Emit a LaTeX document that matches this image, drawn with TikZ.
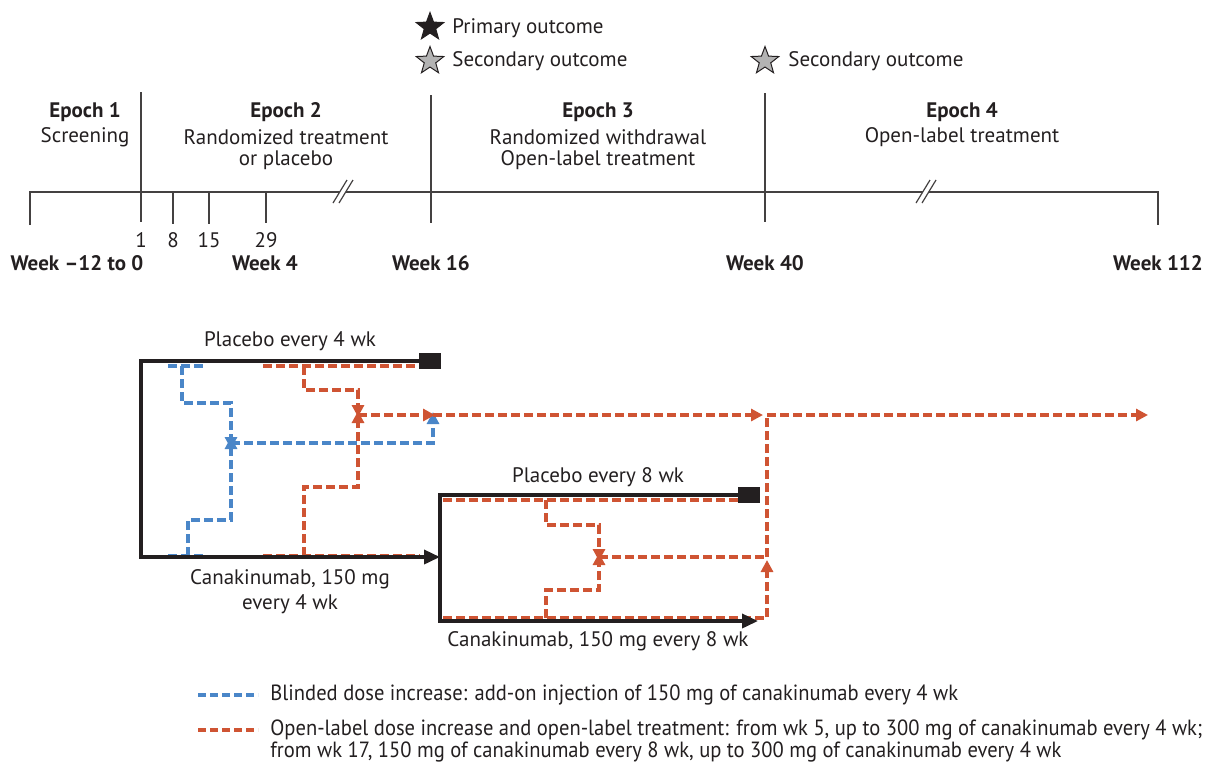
\documentclass[tikz,border=0pt]{standalone}
\usepackage{fontspec}
\setmainfont{PT Sans}
\newfontfamily\legendfont[FakeStretch=0.935]{PT Sans}
\usepackage{tikz}
\usetikzlibrary{arrows.meta,shapes.geometric,positioning}
\definecolor{ink}{HTML}{231F20}
\definecolor{doseblue}{HTML}{4A86C8}
\definecolor{dosered}{HTML}{CF5433}
\definecolor{stargray}{HTML}{B3B3B3}
\tikzstyle{txt}      = [text=ink, inner sep=0pt, font=\fontsize{10.5}{12.5}\selectfont]
\tikzstyle{head}     = [txt, font=\fontsize{10.5}{12.5}\selectfont\bfseries]
\tikzstyle{legtxt}   = [txt, anchor=west, align=left, font=\fontsize{11}{11}\legendfont]
\tikzstyle{axis}     = [draw=ink!85, line width=0.6pt]
\tikzstyle{arm}      = [draw=ink, line width=1.8pt]
\tikzstyle{armtip}   = [-{Triangle[length=8pt,width=7pt]}]
\tikzstyle{bluedash} = [draw=doseblue, line width=1.8pt, dash pattern=on 4.5pt off 2pt]
\tikzstyle{reddash}  = [draw=dosered, line width=1.8pt, dash pattern=on 4.5pt off 2pt]
\tikzstyle{dosetip}  = [-{Triangle[length=6pt,width=6pt]}]
\tikzstyle{endsq}    = [fill=ink, minimum width=11pt, minimum height=8pt, inner sep=0pt]
\tikzstyle{outstar}  = [star, star points=5, star point ratio=2.4, minimum size=14.5pt, inner sep=0pt, draw=ink, line width=0.5pt]

\begin{document}
\begin{tikzpicture}[x=0.5pt, y=-0.5pt]
	\useasboundingbox (0,0) rectangle (1209,762);

	\node[outstar, fill=ink] (prim) at (430,27) {};
	\node[outstar, fill=stargray] (sec16) at (430,61) {};
	\node[outstar, fill=stargray] (sec40) at (765,61) {};
	\node[txt, anchor=west] (primtxt) at (452,28) {Primary outcome};
	\node[txt, anchor=west] (sec16txt) at (452,61) {Secondary outcome};
	\node[txt, anchor=west] (sec40txt) at (788,61) {Secondary outcome};

	\node[head] (ep1) at (85,112) {Epoch 1};
	\node[txt] (ep1a) at (85,137) {Screening};
	\node[head] (ep2) at (286,112) {Epoch 2};
	\node[txt] (ep2a) at (286,137) {Randomized treatment};
	\node[txt] (ep2b) at (286,160) {or placebo};
	\node[head] (ep3) at (598,112) {Epoch 3};
	\node[txt] (ep3a) at (598,137) {Randomized withdrawal};
	\node[txt] (ep3b) at (598,160) {Open-label treatment};
	\node[head] (ep4) at (962,112) {Epoch 4};
	\node[txt] (ep4a) at (962,137) {Open-label treatment};

	\draw[axis] (30,225) -- (30,192) -- (1158,192) -- (1158,225);
	\draw[axis] (141,92) -- (141,222);
	\draw[axis] (431,95) -- (431,223);
	\draw[axis] (765,93) -- (765,222);
	\draw[axis] (173,192) -- (173,224);
	\draw[axis] (209,192) -- (209,224);
	\draw[axis] (266,192) -- (266,223);

	\fill[white] (333,203) -- (347,180) -- (353,180) -- (339,203) -- cycle;
	\draw[axis] (333,203) -- (347,180) (339,203) -- (353,180);
	\fill[white] (916,203) -- (930,180) -- (936,180) -- (922,203) -- cycle;
	\draw[axis] (916,203) -- (930,180) (922,203) -- (936,180);

	\node[txt] (d1) at (141,240) {1};
	\node[txt] (d8) at (173,240) {8};
	\node[txt] (d15) at (209,240) {15};
	\node[txt] (d29) at (266,240) {29};

	\node[head] (wk0) at (77,263) {Week \textendash12 to 0};
	\node[head] (wk4) at (265,263) {Week 4};
	\node[head] (wk16) at (431,263) {Week 16};
	\node[head] (wk40) at (765,263) {Week 40};
	\node[head] (wk112) at (1158,263) {Week 112};

	\node[txt] (pl4) at (290,341) {Placebo every 4 wk};
	\node[txt, align=center] (ca4) at (290,592) {Canakinumab, 150 mg\\every 4 wk};
	\node[txt] (pl8) at (598,477) {Placebo every 8 wk};
	\node[txt] (ca8) at (598,641) {Canakinumab, 150 mg every 8 wk};

	\coordinate (bluejoin) at (231,443);
	\coordinate (redjoin) at (358,415);
	\coordinate (red16) at (433,415);
	\coordinate (red40) at (767,415);
	\coordinate (redend) at (1148,415);
	\coordinate (redjoin8) at (599,557);

	\draw[bluedash] (168,366) -- (203,366);
	\draw[bluedash, dosetip] (182,366) -- (182,403) -- (231,403) -- ([yshift=-3pt]bluejoin);
	\draw[bluedash] (168,556) -- (203,556);
	\draw[bluedash, dosetip] (188,556) -- (188,520) -- (231,520) -- ([yshift=3pt]bluejoin);
	\draw[bluedash, dosetip] (bluejoin) -- (433,443) -- ([yshift=1.5pt]red16);

	\draw[reddash] (263,366) -- (420,366);
	\draw[reddash, dosetip] (304,366) -- (304,390) -- (358,390) -- ([yshift=-1pt]redjoin);
	\draw[reddash] (263,556) -- (420,556);
	\draw[reddash, dosetip] (304,556) -- (304,487) -- (358,487) -- ([yshift=2pt]redjoin);
	\draw[reddash, dosetip] (redjoin) -- ([xshift=1pt]red16);
	\draw[reddash, dosetip] (red16) -- ([xshift=-2pt]red40);
	\draw[reddash, dosetip] (red40) -- (redend);

	\node[endsq] (end4) at (430,361) {};
	\draw[arm, armtip] (end4.west) -- (141,361) -- (141,557) -- (440,557);

	\draw[reddash] (443,500) -- (738,500);
	\draw[reddash, dosetip] (546,500) -- (546,525) -- (599,525) -- ([yshift=-2pt]redjoin8);
	\draw[reddash, dosetip] (546,618) -- (546,590) -- (599,590) -- ([yshift=2pt]redjoin8);
	\draw[reddash] (redjoin8) -- (767,557);
	\draw[reddash, dosetip] (443,618) -- (767,618) -- (767,560);
	\draw[reddash] (767,557) -- (red40);

	\node[endsq] (end8) at (749,495) {};
	\draw[arm, armtip] (end8.west) -- (440,495) -- (440,621) -- (758,621);

	\coordinate (legb0) at (198,695);
	\coordinate (legb1) at (258,695);
	\coordinate (legr0) at (198,730);
	\coordinate (legr1) at (258,730);
	\draw[bluedash, dash pattern=on 4pt off 2pt] (legb0) -- (legb1);
	\draw[reddash, dash pattern=on 4pt off 2pt] (legr0) -- (legr1);
	\node[legtxt] (legblue) at (270,695) {Blinded dose increase: add-on injection of 150 mg of canakinumab every 4 wk};
	\node[legtxt] (legred) at (270,741) {Open-label dose increase and open-label treatment: from wk 5, up to 300 mg of canakinumab every 4 wk;\\from wk 17, 150 mg of canakinumab every 8 wk, up to 300 mg of canakinumab every 4 wk};
\end{tikzpicture}
\end{document}
